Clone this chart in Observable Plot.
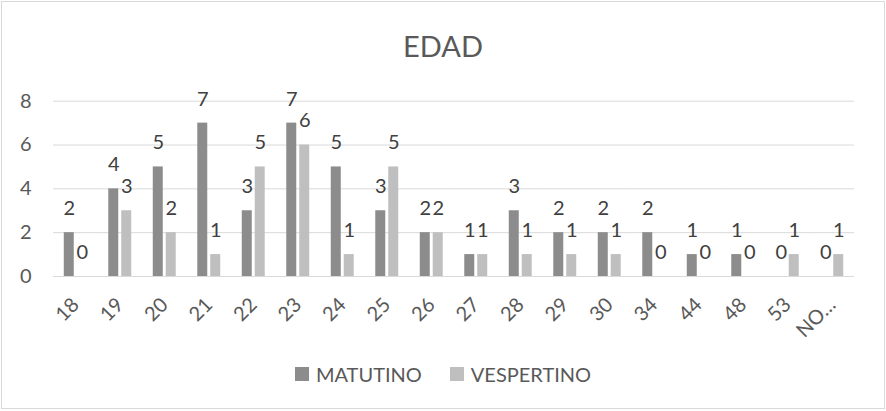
<!DOCTYPE html>
<html>
<head>
<meta charset="utf-8">
<script src="https://cdn.jsdelivr.net/npm/d3@7"></script>
<script src="https://cdn.jsdelivr.net/npm/@observablehq/plot@0.6"></script>
<style>
  html, body { margin: 0; padding: 0; background: #fff; }
  #frame { position: absolute; left: 1px; top: 1px; width: 884px; height: 408px; box-sizing: border-box; border: 1px solid #d9d9d9; }
  #title { position: absolute; left: 0; top: 31px; width: 886px; text-align: center; font: 29px/1 Lato, sans-serif; color: #595959; }
  #chart { position: absolute; left: 0; top: 0; }
  #legend { position: absolute; left: 0; top: 364px; width: 886px; height: 20px; display: flex; justify-content: center; align-items: center; font: 20px/20px Lato, sans-serif; color: #595959; }
  .item { display: flex; align-items: center; margin: 0 14px; }
  .sw { width: 14px; height: 14px; margin-right: 7px; }
</style>
</head>
<body>
<div id="frame"></div>
<div id="chart"></div>
<div id="title"></div>
<div id="legend"></div>
<script>
const title = "EDAD";
const categories = ["18","19","20","21","22","23","24","25","26","27","28","29","30","34","44","48","53","NO…"];
const series = ["MATUTINO", "VESPERTINO"];
const matutino = [2,4,5,7,3,7,5,3,2,1,3,2,2,2,1,1,0,0];
const vespertino = [0,3,2,1,5,6,1,5,2,1,1,1,1,0,0,0,1,1];
const yTicks = [0,2,4,6,8];
const colors = ["#8c8c8c", "#bfbfbf"];

const data = categories.flatMap((c, i) => [
  {cat: c, serie: series[0], value: matutino[i]},
  {cat: c, serie: series[1], value: vespertino[i]}
]);

const plot = Plot.plot({
  width: 886,
  height: 340,
  marginLeft: 53,
  marginRight: 32,
  marginTop: 100.7,
  marginBottom: 64,
  style: {fontFamily: "Lato, sans-serif", color: "#595959", background: "transparent", overflow: "visible"},
  fx: {domain: categories, padding: 0, round: false, label: null},
  x: {domain: series, axis: null, paddingInner: 0.23, paddingOuter: 0.83, round: false},
  y: {domain: [0, 8], label: null},
  color: {domain: series, range: colors},
  marks: [
    Plot.gridY(yTicks, {stroke: "#d9d9d9", strokeOpacity: 1, strokeWidth: 1}),
    Plot.barY(data, {fx: "cat", x: "serie", y: "value", fill: "serie"}),
    Plot.text(data, {fx: "cat", x: "serie", y: "value", text: d => String(d.value), dy: -24, fontSize: 20, fill: "#404040"}),
    Plot.axisY(yTicks, {tickSize: 0, tickPadding: 22, fontSize: 20, label: null}),
    Plot.axisFx({anchor: "bottom", tickRotate: -45, tickSize: 0, tickPadding: 25, fontSize: 20, label: null})
  ]
});
document.getElementById("chart").appendChild(plot);
document.getElementById("title").textContent = title;

const legend = document.getElementById("legend");
series.forEach((s, i) => {
  const item = document.createElement("div");
  item.className = "item";
  const sw = document.createElement("span");
  sw.className = "sw";
  sw.style.background = colors[i];
  const label = document.createElement("span");
  label.textContent = s;
  item.appendChild(sw);
  item.appendChild(label);
  legend.appendChild(item);
});
</script>
</body>
</html>
